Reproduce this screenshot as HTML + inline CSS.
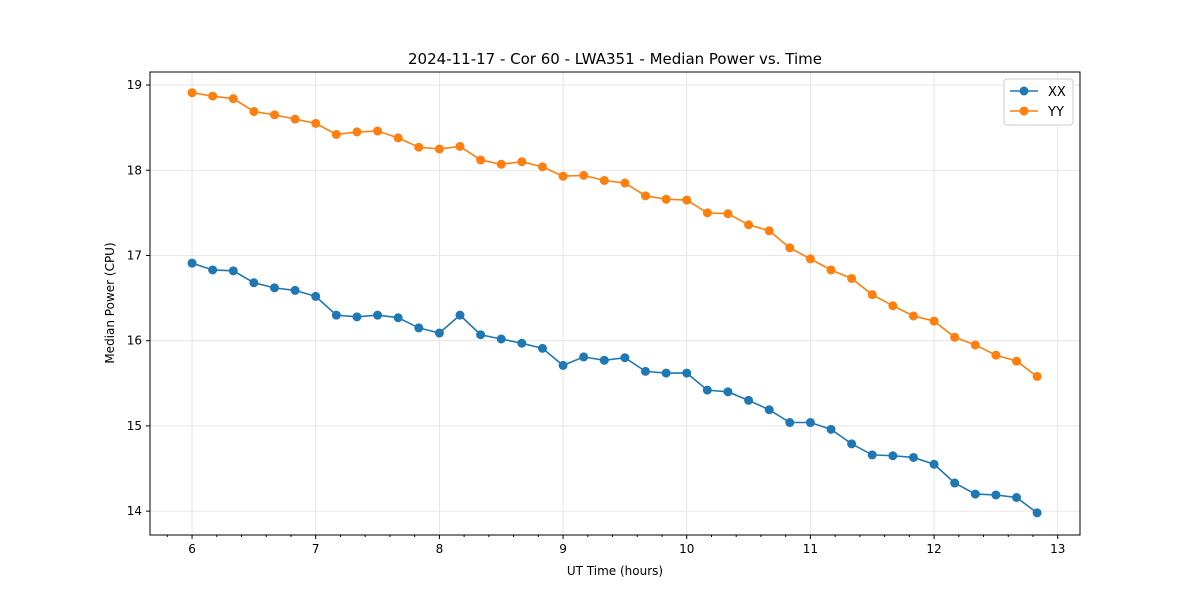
<!DOCTYPE html>
<html><head><meta charset="utf-8"><style>
body{margin:0;background:#fff;font-family:"Liberation Sans","DejaVu Sans",sans-serif}
svg text{font-family:"DejaVu Sans","Liberation Sans",sans-serif}
</style></head><body>
<svg id="c" width="1200" height="600" xmlns="http://www.w3.org/2000/svg"></svg>
<script>
const xxValues=[16.91,16.83,16.82,16.68,16.62,16.59,16.52,16.30,16.28,16.30,16.27,16.15,16.09,16.30,16.07,16.02,15.97,15.91,15.71,15.81,15.77,15.80,15.64,15.62,15.62,15.42,15.40,15.30,15.19,15.04,15.04,14.96,14.79,14.66,14.65,14.63,14.55,14.33,14.20,14.19,14.16,13.98];
const yyValues=[18.91,18.87,18.84,18.69,18.65,18.60,18.55,18.42,18.45,18.46,18.38,18.27,18.25,18.28,18.12,18.07,18.10,18.04,17.93,17.94,17.88,17.85,17.70,17.66,17.65,17.50,17.49,17.36,17.29,17.09,16.96,16.83,16.73,16.54,16.41,16.29,16.23,16.04,15.95,15.83,15.76,15.58];
const xTicks=[6,7,8,9,10,11,12,13];
const yTicks=[14,15,16,17,18,19];
const startHour=6, stepHour=1/6;
const L=150,R=1080,T=72,B=535;
const X=v=>L+(v-5.66)/(13.18-5.66)*(R-L);
const Y=v=>B-(v-13.72)/(19.153-13.72)*(B-T);
const svg=document.getElementById('c');const NS='http://www.w3.org/2000/svg';
function el(t,a,txt){const e=document.createElementNS(NS,t);for(const k in a)e.setAttribute(k,a[k]);if(txt!=null)e.textContent=txt;svg.appendChild(e);return e;}
xTicks.forEach(t=>{const g=el('line',{x1:X(t),x2:X(t),y1:T,y2:B,stroke:'#e0e0e0','stroke-width':0.8});

const k=el('line',{x1:X(t),x2:X(t),y1:B,y2:B+4,stroke:'#000'});
const l=el('text',{x:X(t),y:B+18,'text-anchor':'middle','font-size':12},t);});
for(let m=5.8;m<13.18;m+=0.2){if(Math.abs(m-Math.round(m))<0.01)continue;const k=el('line',{x1:X(m),x2:X(m),y1:B,y2:B+2,stroke:'#000'});}
yTicks.forEach(t=>{const g=el('line',{x1:L,x2:R,y1:Y(t),y2:Y(t),stroke:'#e0e0e0','stroke-width':0.8});

const k=el('line',{x1:L-4,x2:L,y1:Y(t),y2:Y(t),stroke:'#000'});
const l=el('text',{x:L-8,y:Y(t)+4,'text-anchor':'end','font-size':12},t);});
const fr=el('rect',{x:L,y:T,width:R-L,height:B-T,fill:'none',stroke:'#000','stroke-width':1});

function series(vals,color,name){const pts=vals.map((v,i)=>X(startHour+i*stepHour)+','+Y(v)).join(' ');
const p=el('polyline',{points:pts,fill:'none',stroke:color,'stroke-width':1.6});
vals.forEach((v,i)=>{const c=el('circle',{cx:X(startHour+i*stepHour),cy:Y(v),r:4.5,fill:color});});}
series(xxValues,'#1f77b4','xx');series(yyValues,'#ff7f0e','yy');
let t=el('text',{x:615,y:64,'text-anchor':'middle','font-size':15},'2024-11-17 - Cor 60 - LWA351 - Median Power vs. Time');
t=el('text',{x:615,y:575,'text-anchor':'middle','font-size':12},'UT Time (hours)');
t=el('text',{x:114,y:303,'text-anchor':'middle','font-size':12,transform:'rotate(-90 114 303)'},'Median Power (CPU)');
const lg=el('rect',{x:1004,y:79,width:69,height:46,fill:'#fff',stroke:'#ccc',rx:3});
[['XX','#1f77b4',91],['YY','#ff7f0e',111]].forEach(([n,c,y])=>{const a=el('line',{x1:1010,x2:1038,y1:y,y2:y,stroke:c,'stroke-width':1.6});
const b=el('circle',{cx:1024,cy:y,r:4.5,fill:c});
const d=el('text',{x:1048,y:y+5,'font-size':13},n);});
</script></body></html>
